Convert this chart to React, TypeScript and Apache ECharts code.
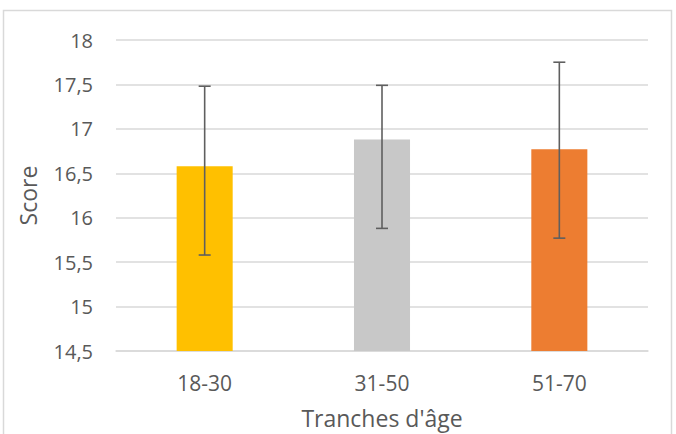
import React, { useEffect, useRef } from "react";
import * as echarts from "echarts";

const categories = ["18-30", "31-50", "51-70"];
const means = [16.58, 16.88, 16.77];
const errLow = [15.58, 15.88, 15.77];
const errHigh = [17.48, 17.49, 17.75];
const barColors = ["#FFC000", "#C8C8C8", "#ED7D31"];
const yMin = 14.5;
const yMax = 18;
const yStep = 0.5;

const FONT = "'Open Sans', 'Liberation Sans', sans-serif";
const TXT = "#595959";

export default function App() {
  const ref = useRef<HTMLDivElement>(null);
  useEffect(() => {
    if (!ref.current) return;
    const chart = echarts.init(ref.current, undefined, { renderer: "svg" });
    chart.setOption({
      animation: false,
      backgroundColor: "#ffffff",
      textStyle: { fontFamily: FONT },
      graphic: [
        {
          type: "rect",
          shape: { x: 3.5, y: 10.5, width: 668, height: 440 },
          style: { fill: "none", stroke: "#D9D9D9", lineWidth: 1.5 },
          silent: true,
          z: -1,
        },
      ],
      grid: { left: 116, right: 28, top: 40, bottom: 81 },
      xAxis: {
        type: "category",
        data: categories,
        axisLine: { lineStyle: { color: "#D9D9D9", width: 1.5 } },
        axisTick: { show: false },
        axisLabel: { color: TXT, fontSize: 21, margin: 21, fontFamily: FONT },
        name: "Tranches d'âge",
        nameLocation: "middle",
        nameGap: 55,
        nameTextStyle: { color: TXT, fontSize: 23, fontFamily: FONT },
      },
      yAxis: {
        type: "value",
        min: yMin,
        max: yMax,
        interval: yStep,
        axisLine: { show: false },
        axisTick: { show: false },
        splitLine: { lineStyle: { color: "#D9D9D9", width: 1.5 } },
        axisLabel: {
          color: TXT,
          fontSize: 20,
          margin: 23,
          fontFamily: FONT,
          formatter: (v: number) => String(v).replace(".", ","),
        },
        name: "Score",
        nameLocation: "middle",
        nameGap: 77,
        nameRotate: 90,
        nameTextStyle: { color: TXT, fontSize: 23, fontFamily: FONT },
      },
      series: [
        {
          type: "bar",
          barWidth: "31.6%",
          clip: true,
          data: means.map((v, i) => ({ value: v, itemStyle: { color: barColors[i] } })),
        },
        {
          type: "custom",
          data: categories.map((c, i) => [i, errLow[i], errHigh[i]]),
          renderItem: (params: any, api: any) => {
            const x = api.value(0);
            const lo = api.coord([x, api.value(1)]);
            const hi = api.coord([x, api.value(2)]);
            const cap = 6;
            const style = { stroke: "#5F5F5F", lineWidth: 1.6 };
            return {
              type: "group",
              children: [
                { type: "line", shape: { x1: hi[0], y1: hi[1], x2: lo[0], y2: lo[1] }, style },
                { type: "line", shape: { x1: hi[0] - cap, y1: hi[1], x2: hi[0] + cap, y2: hi[1] }, style },
                { type: "line", shape: { x1: lo[0] - cap, y1: lo[1], x2: lo[0] + cap, y2: lo[1] }, style },
              ],
            };
          },
          z: 5,
        },
      ],
    });
    return () => chart.dispose();
  }, []);
  return (
    <div
      ref={ref}
      style={{ position: "fixed", left: 0, top: 0, width: 676, height: 434 }}
    />
  );
}
